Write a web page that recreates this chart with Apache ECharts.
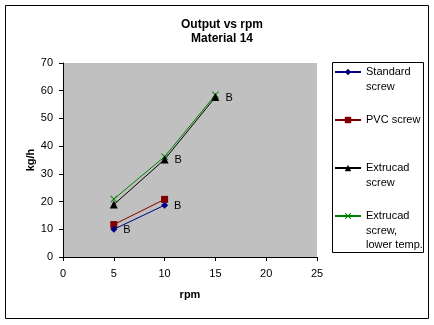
<!DOCTYPE html>
<html><head><meta charset="utf-8">
<script src="https://cdn.jsdelivr.net/npm/echarts@6/dist/echarts.min.js"></script>
<style>html,body{margin:0;padding:0;background:#fff}#c{width:434px;height:325px}</style>
</head><body><div id="c"></div>
<script>
const seriesNames = ['Standard\nscrew', 'PVC screw', 'Extrucad\nscrew', 'Extrucad\nscrew,\nlower temp.'];
const rpmStandard = [5, 10];
const outStandard = [10.0, 18.7];
const rpmPVC = [5, 10];
const outPVC = [11.7, 20.8];
const rpmExtrucad = [5, 10, 15];
const outExtrucad = [18.9, 35.2, 57.7];
const rpmExtrucadLow = [5, 10, 15];
const outExtrucadLow = [20.9, 36.2, 58.5];
const labelStandard = ['B', 'B'];
const labelExtrucad = ['', 'B', 'B'];
const xTicks = [0, 5, 10, 15, 20, 25];
const yTicks = [0, 10, 20, 30, 40, 50, 60, 70];

const FONT = 'Liberation Sans, Arial, sans-serif';
const colors = ['#000080', '#800000', '#000000', '#008000'];
const symbols = ['diamond', 'rect', 'triangle',
  'path://M0,1L1,0L5,4L9,0L10,1L6,5L10,9L9,10L5,6L1,10L0,9L4,5Z'];
const symbolSizes = [7, 7, 8, 7];
const xs = [rpmStandard, rpmPVC, rpmExtrucad, rpmExtrucadLow];
const ys = [outStandard, outPVC, outExtrucad, outExtrucadLow];
const labels = [labelStandard, null, labelExtrucad, null];

const series = seriesNames.map((name, i) => ({
  name, type: 'line', symbol: symbols[i], symbolSize: symbolSizes[i],
  color: colors[i],
  lineStyle: { width: 1, color: colors[i] },
  itemStyle: { color: colors[i] },
  z: 10 - i,
  data: xs[i].map((x, j) => {
    const d = { value: [x, ys[i][j]] };
    if (labels[i] && labels[i][j]) {
      d.label = { show: true, formatter: labels[i][j], position: 'right', distance: 6,
        offset: [0, 1], color: '#000', fontFamily: FONT, fontSize: 11 };
    }
    return d;
  }),
  animation: false
}));

const LH = 14.5;
const legendCenters = [72, 120, 168, 216];
const legends = seriesNames.map((name, i) => {
  const n = name.split('\n').length;
  const h = (2 * n - 1) * LH;
  return {
    data: [name], left: 334, top: legendCenters[i] - h / 2, orient: 'vertical',
    padding: 0, itemWidth: 26, itemHeight: 8, itemGap: 0,
    formatter: nm => '\n'.repeat(n - 1) + nm,
    textStyle: { fontFamily: FONT, fontSize: 11, color: '#000', lineHeight: LH },
    selectedMode: false
  };
});

const chart = echarts.init(document.getElementById('c'), null, { renderer: 'canvas' });
chart.setOption({
  animation: false,
  backgroundColor: '#fff',
  title: {
    text: 'Output vs rpm\nMaterial 14', left: 217, top: 13, textAlign: 'center',
    textStyle: { fontFamily: FONT, fontSize: 12, fontWeight: 'bold', color: '#000', lineHeight: 14 }
  },
  grid: { left: 63, top: 63, right: 117, bottom: 68, containLabel: false,
    show: true, backgroundColor: '#c0c0c0', borderWidth: 0 },
  xAxis: {
    type: 'value', min: xTicks[0], max: xTicks[xTicks.length - 1], interval: 5,
    name: 'rpm', nameLocation: 'middle', nameGap: 32, nameMoveOverlap: false,
    nameTextStyle: { fontFamily: FONT, fontSize: 11, fontWeight: 'bold', color: '#000' },
    axisLine: { show: true, onZero: false, lineStyle: { color: '#000', width: 1 } },
    axisTick: { show: true, length: 4, lineStyle: { color: '#000' } },
    axisLabel: { fontFamily: FONT, fontSize: 11, color: '#000', margin: 11 },
    splitLine: { show: false }
  },
  yAxis: {
    type: 'value', min: yTicks[0], max: yTicks[yTicks.length - 1], interval: 10,
    name: 'kg/h', nameLocation: 'middle', nameGap: 27, nameRotate: 90, nameMoveOverlap: false,
    nameTextStyle: { fontFamily: FONT, fontSize: 11, fontWeight: 'bold', color: '#000' },
    axisLine: { show: true, lineStyle: { color: '#000', width: 1 } },
    axisTick: { show: true, length: 4, lineStyle: { color: '#000' } },
    axisLabel: { fontFamily: FONT, fontSize: 11, color: '#000', margin: 10 },
    splitLine: { show: false }
  },
  legend: legends,
  graphic: [
    { type: 'rect', shape: { x: 5.5, y: 5.5, width: 423, height: 313 },
      style: { fill: 'none', stroke: '#000', lineWidth: 1 }, silent: true },
    { type: 'rect', shape: { x: 332.5, y: 62.5, width: 91, height: 190 },
      style: { fill: 'none', stroke: '#000', lineWidth: 1 }, silent: true }
  ],
  series
});
</script></body></html>
